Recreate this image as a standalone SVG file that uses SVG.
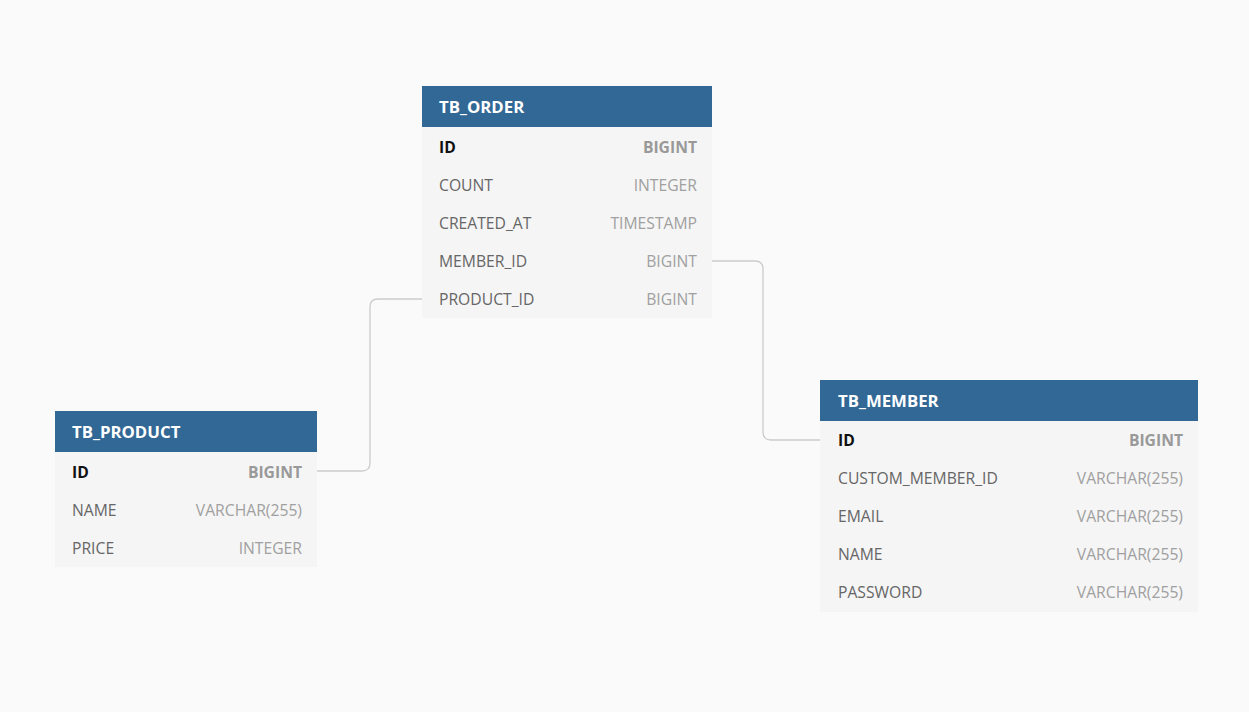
<svg xmlns="http://www.w3.org/2000/svg" width="1249" height="712" viewBox="0 0 1249 712">
<style>
.bg{fill:#fafafa}
.hdr{fill:#326895}
.body{fill:#f5f5f5}
.title{font-family:"Open Sans","Liberation Sans",sans-serif;font-size:16.8px;font-weight:bold;fill:#ffffff}
.col{font-family:"Open Sans","Liberation Sans",sans-serif;font-size:15.7px;fill:#666666}
.type{font-family:"Open Sans","Liberation Sans",sans-serif;font-size:15.7px;fill:#a0a0a0;text-anchor:end}
.pk{font-family:"Open Sans","Liberation Sans",sans-serif;font-size:15.7px;font-weight:bold;fill:#111111}
.pkt{font-family:"Open Sans","Liberation Sans",sans-serif;font-size:15.7px;font-weight:bold;fill:#999999;text-anchor:end}
.conn{fill:none;stroke:#cccccc;stroke-width:1.3}
</style>
<rect class="bg" x="0" y="0" width="1249" height="712"/>
<g id="connectors">
<path class="conn" d="M422,299 H378 Q370,299 370,307 V463 Q370,471 362,471 H317"/>
<path class="conn" d="M712,261 H755 Q763,261 763,269 V432 Q763,440 771,440 H820"/>
</g>
<g id="tb_order">
<rect class="body" x="422" y="127" width="290" height="191"/>
<rect class="hdr" x="422" y="86" width="290" height="41"/>
<text class="title" x="439" y="113">TB_ORDER</text>
<text class="pk" x="439" y="153">ID</text><text class="pkt" x="697" y="153">BIGINT</text>
<text class="col" x="439" y="191">COUNT</text><text class="type" x="697" y="191">INTEGER</text>
<text class="col" x="439" y="229">CREATED_AT</text><text class="type" x="697" y="229">TIMESTAMP</text>
<text class="col" x="439" y="267">MEMBER_ID</text><text class="type" x="697" y="267">BIGINT</text>
<text class="col" x="439" y="305">PRODUCT_ID</text><text class="type" x="697" y="305">BIGINT</text>
</g>
<g id="tb_product">
<rect class="body" x="55" y="452" width="262" height="115"/>
<rect class="hdr" x="55" y="411" width="262" height="41"/>
<text class="title" x="72" y="438">TB_PRODUCT</text>
<text class="pk" x="72" y="478">ID</text><text class="pkt" x="302" y="478">BIGINT</text>
<text class="col" x="72" y="516">NAME</text><text class="type" x="302" y="516">VARCHAR(255)</text>
<text class="col" x="72" y="554">PRICE</text><text class="type" x="302" y="554">INTEGER</text>
</g>
<g id="tb_member">
<rect class="body" x="820" y="421" width="378" height="191"/>
<rect class="hdr" x="820" y="380" width="378" height="41"/>
<text class="title" x="838" y="407">TB_MEMBER</text>
<text class="pk" x="838" y="446">ID</text><text class="pkt" x="1183" y="446">BIGINT</text>
<text class="col" x="838" y="484">CUSTOM_MEMBER_ID</text><text class="type" x="1183" y="484">VARCHAR(255)</text>
<text class="col" x="838" y="522">EMAIL</text><text class="type" x="1183" y="522">VARCHAR(255)</text>
<text class="col" x="838" y="560">NAME</text><text class="type" x="1183" y="560">VARCHAR(255)</text>
<text class="col" x="838" y="598">PASSWORD</text><text class="type" x="1183" y="598">VARCHAR(255)</text>
</g>
</svg>
